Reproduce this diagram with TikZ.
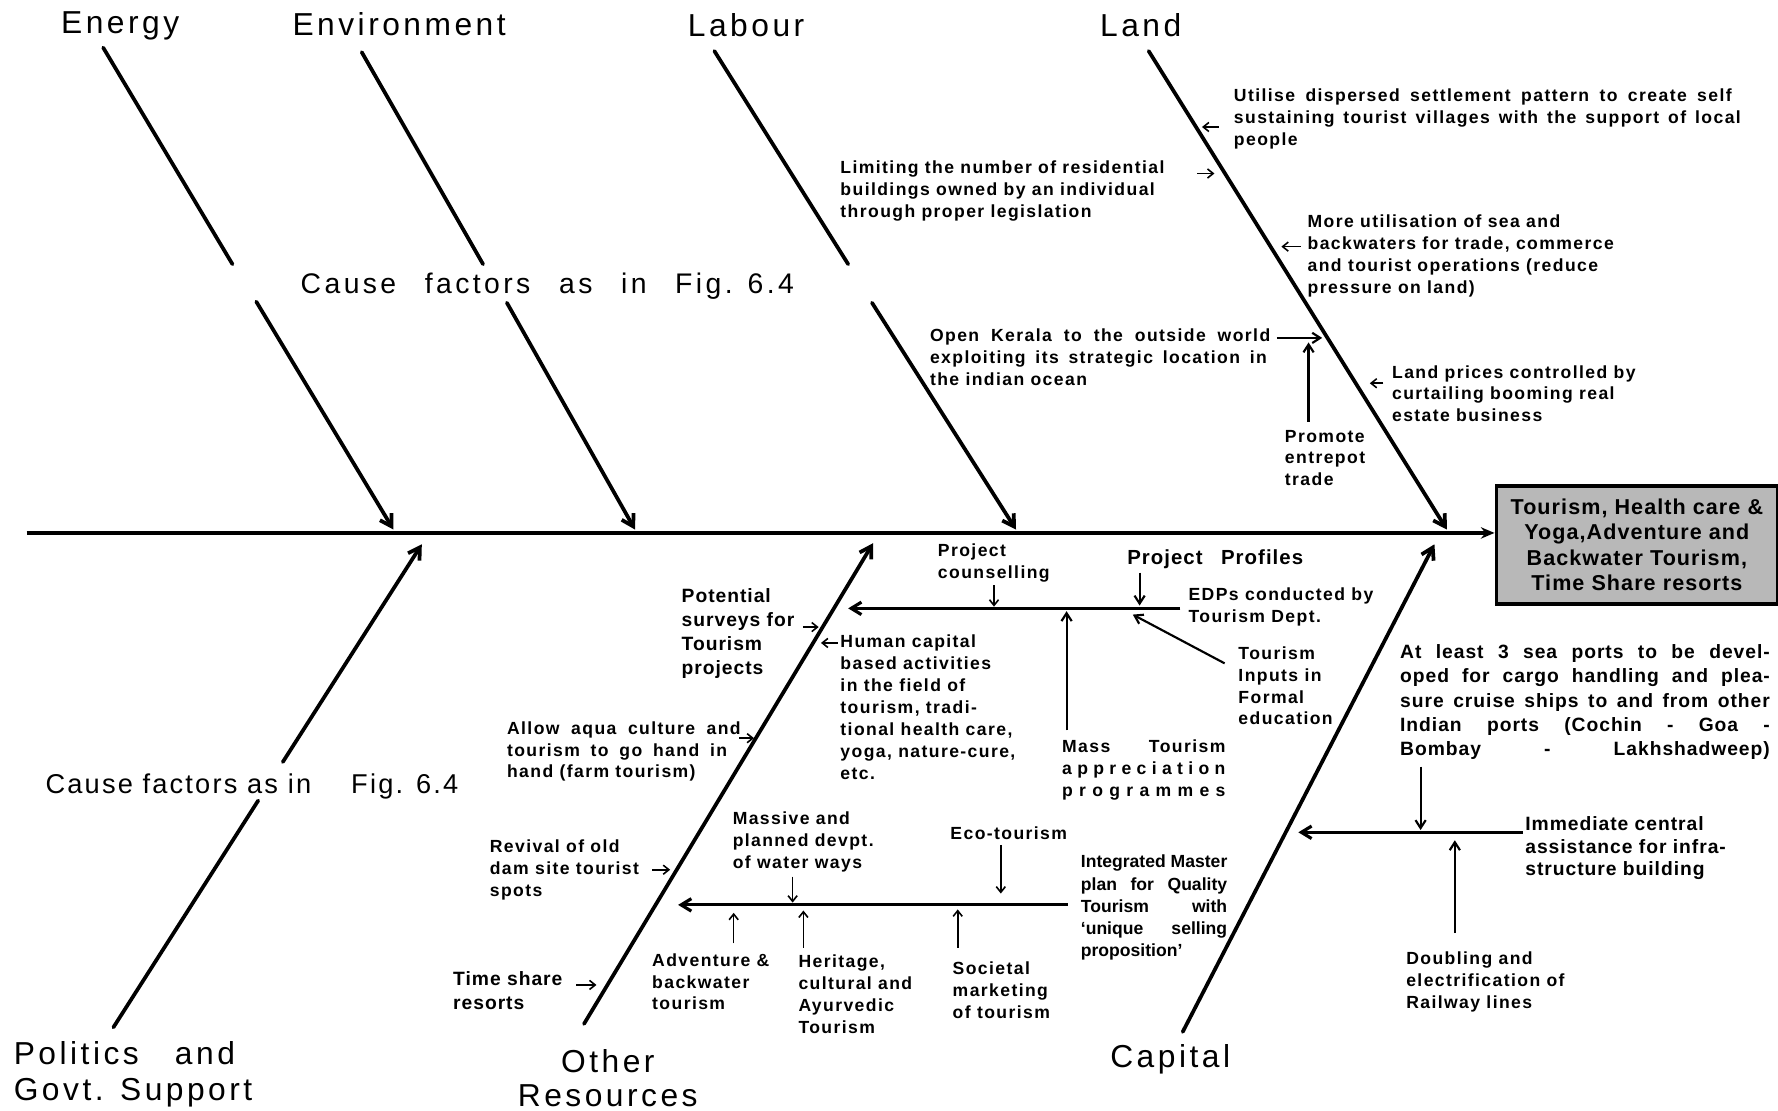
\documentclass[tikz,border=0pt]{standalone}
\usepackage{fontspec}
\setmainfont{Liberation Sans}
\newfontfamily\headfont{Liberation Sans}[LetterSpace=11]
\newfontfamily\causefont{Liberation Sans}[LetterSpace=12]
\newfontfamily\causefontb{Liberation Sans}[LetterSpace=8]
\newfontfamily\notefont{Liberation Sans}[LetterSpace=8]
\newfontfamily\midfont{Liberation Sans}[LetterSpace=5]
\newfontfamily\tightfont{Liberation Sans}
\usetikzlibrary{arrows.meta}
% a line of text spread to a fixed width
\newcommand\jl[2]{\makebox[#1][s]{#2}}

\tikzset{
  heading/.style={inner sep=0pt, font=\headfont\fontsize{28}{31}\selectfont},
  cause/.style={inner sep=0pt, anchor=base west},
  note/.style={inner sep=0pt, anchor=north west, align=left,
    font=\notefont\bfseries\fontsize{15.5}{19.3}\selectfont},
  midnote/.style={note, font=\midfont\bfseries\fontsize{17}{21}\selectfont},
  tightnote/.style={note, font=\tightfont\bfseries\fontsize{15.5}{19.5}\selectfont},
  goalbox/.style={draw, line width=3pt, fill=black!28, inner sep=0pt,
    minimum width=248pt, minimum height=104pt, align=center,
    font=\midfont\bfseries\fontsize{19}{22.4}\selectfont},
  spine/.style={line width=3pt, -{Stealth[length=12pt,width=10pt]}},
  bone/.style={line width=3.3pt, line cap=round},
  bonearrow/.style={bone, -{Straight Barb[length=10pt,width=12pt]}},
  subbranch/.style={line width=2.8pt, -{Straight Barb[length=9pt,width=11pt]}},
  feeder/.style={line width=1.9pt, -{Straight Barb[length=7pt,width=9pt]}},
  smallarrow/.style={line width=1.4pt, -{Straight Barb[length=5pt,width=8pt]}},
}

\begin{document}
\begin{tikzpicture}[x=1pt,y=-1pt]
\fill[white] (0,0) rectangle (1568,979);
\useasboundingbox (0,0) rectangle (1568,979);

% ---------- category headings ----------
\node[heading, anchor=base] (energy) at (106,29.5) {Energy};
\node[heading, anchor=base] (environment) at (352,31) {Environment};
\node[heading, anchor=base] (labour) at (658,32.5) {Labour};
\node[heading, anchor=base] (land) at (1006,32.5) {Land};
\node[heading, anchor=north west, align=left, font=\headfont\fontsize{28}{32}\selectfont]
  (politics) at (12,918) {\jl{195pt}{Politics and}\\Govt. Support};
\node[heading, anchor=north, align=center, font=\headfont\fontsize{28}{30}\selectfont]
  (otherres) at (536,925) {Other\\Resources};
\node[heading, anchor=base] (capital) at (1032,941) {Capital};

\node[cause, font=\causefont\fontsize{25}{28}\selectfont] (causeup) at (265,258.6)
  {\makebox[435pt][l]{Cause\hfill factors\hfill as\hfill in\hfill Fig. 6.4}};
\node[cause, font=\causefontb\fontsize{24}{28}\selectfont] (causelow) at (40,700)
  {\makebox[364pt][l]{Cause factors as in\hfill Fig. 6.4}};

% ---------- effect box and spine ----------
\coordinate (tail) at (23.5,470);
\node[goalbox, anchor=north west] (goal) at (1318,427)
  {Tourism, Health care \&\\Yoga,Adventure and\\Backwater Tourism,\\Time Share resorts};
\draw[spine] (tail) -- (tail -| goal.west);

% ---------- main bones (broken where the cause-factor rows run) ----------
\coordinate (enA) at (91,42);   \coordinate (enB) at (205,233);
\coordinate (enC) at (226,266); \coordinate (enD) at (347,467);
\draw[bone] (enA) -- (enB); \draw[bonearrow] (enC) -- (enD);

\coordinate (evA) at (319,46);  \coordinate (evB) at (426,233);
\coordinate (evC) at (447,267); \coordinate (evD) at (560,467);
\draw[bone] (evA) -- (evB); \draw[bonearrow] (evC) -- (evD);

\coordinate (lbA) at (630,45);  \coordinate (lbB) at (748,233);
\coordinate (lbC) at (769,267); \coordinate (lbD) at (896,467);
\draw[bone] (lbA) -- (lbB); \draw[bonearrow] (lbC) -- (lbD);

\coordinate (ldA) at (1013,45); \coordinate (ldD) at (1276,467);
\draw[bonearrow] (ldA) -- (ldD);

\coordinate (plA) at (100,906);   \coordinate (plB) at (227.7,706);
\coordinate (plC) at (249.4,672); \coordinate (plD) at (372,480);
\draw[bone] (plA) -- (plB); \draw[bonearrow] (plC) -- (plD);

\coordinate (orA) at (515,903); \coordinate (orD) at (770,479);
\draw[bonearrow] (orA) -- (orD);

\coordinate (cpA) at (1043,910); \coordinate (cpD) at (1265,480);
\draw[bonearrow] (cpA) -- (cpD);

% ---------- Land causes ----------
\node[note] (utilise) at (1088,78)
  {\jl{439pt}{Utilise dispersed settlement pattern to create self}\\
   \jl{447pt}{sustaining tourist villages with the support of local}\\people};
\coordinate (u1) at (1075,112); \coordinate (u2) at (1060,112);
\draw[smallarrow] (u1) -- (u2);

\node[note] (limiting) at (741,142)
  {Limiting the number of residential\\buildings owned by an individual\\through proper legislation};
\coordinate (li1) at (1056,153); \coordinate (li2) at (1071,153);
\draw[smallarrow] (li1) -- (li2);

\node[note] (seaway) at (1153,189.5)
  {More utilisation of sea and\\backwaters for trade, commerce\\and tourist operations (reduce\\pressure on land)};
\coordinate (se1) at (1147,217.5); \coordinate (se2) at (1130,217.5);
\draw[smallarrow] (se1) -- (se2);

\node[note] (kerala) at (820,290)
  {\jl{300pt}{Open Kerala to the outside world}\\
   \jl{297pt}{exploiting its strategic location in}\\the indian ocean};
\coordinate (ke1) at (1126,298); \coordinate (ke2) at (1166,298);
\draw[feeder] (ke1) -- (ke2);

\node[note] (entrepot) at (1133,379) {Promote\\entrepot\\trade};
\coordinate (en1) at (1154,372); \coordinate (en2) at (1154,302);
\draw[feeder] (en1) -- (en2);

\node[note] (landprice) at (1227.5,322)
  {Land prices controlled by\\curtailing booming real\\estate business};
\coordinate (lp1) at (1220,338); \coordinate (lp2) at (1208,338);
\draw[smallarrow] (lp1) -- (lp2);

% ---------- Other Resources: human capital branch ----------
\coordinate (b1s) at (1041,536.5); \coordinate (b1e) at (748,536.5);
\draw[subbranch] (b1s) -- (b1e);

\node[note] (counsel) at (827,479) {Project\\counselling};
\coordinate (pc1) at (876.6,516); \coordinate (pc2) at (876.6,535);
\draw[smallarrow] (pc1) -- (pc2);

\node[midnote, font=\midfont\bfseries\fontsize{18}{22}\selectfont] (profiles) at (994,485)
  {\jl{155pt}{Project Profiles}};
\coordinate (pp1) at (1005,505); \coordinate (pp2) at (1005,534);
\draw[feeder] (pp1) -- (pp2);

\node[note] (edp) at (1048,518) {EDPs conducted by\\Tourism Dept.};

\node[note] (inputs) at (1092,570) {Tourism\\Inputs in\\Formal\\education};
\coordinate (ti1) at (1080,585); \coordinate (ti2) at (999,542);
\draw[feeder] (ti1) -- (ti2);

\node[note] (mass) at (936.5,652.6)
  {\jl{144pt}{Mass Tourism}\\
   \jl{144pt}{a\hfill p\hfill p\hfill r\hfill e\hfill c\hfill i\hfill a\hfill t\hfill i\hfill o\hfill n}\\
   \jl{144pt}{p\hfill r\hfill o\hfill g\hfill r\hfill a\hfill m\hfill m\hfill e\hfill s}};
\coordinate (ma1) at (940.6,644); \coordinate (ma2) at (940.6,539);
\draw[feeder] (ma1) -- (ma2);

\node[note] (human) at (741,560)
  {Human capital\\based activities\\in the field of\\tourism, tradi-\\tional health care,\\yoga, nature-cure,\\etc.};
\coordinate (hu1) at (739,567); \coordinate (hu2) at (724,567);
\draw[smallarrow] (hu1) -- (hu2);

\node[midnote] (potential) at (601,519) {Potential\\surveys for\\Tourism\\projects};
\coordinate (po1) at (708,553); \coordinate (po2) at (722,553);
\draw[smallarrow] (po1) -- (po2);

\node[note] (aqua) at (447,636)
  {\jl{206pt}{Allow aqua culture and}\\\jl{194pt}{tourism to go hand in}\\hand (farm tourism)};
\coordinate (aq1) at (652,651); \coordinate (aq2) at (665,651);
\draw[smallarrow] (aq1) -- (aq2);

% ---------- Other Resources: master plan branch ----------
\coordinate (b2s) at (941.5,798); \coordinate (b2e) at (598,798);
\draw[subbranch] (b2s) -- (b2e);

\node[note] (waterways) at (646,715.7) {Massive and\\planned devpt.\\of water ways};
\coordinate (ww1) at (699,773); \coordinate (ww2) at (699,796);
\draw[smallarrow] (ww1) -- (ww2);

\node[note] (eco) at (838,729) {Eco-tourism};
\coordinate (ec1) at (882.6,745); \coordinate (ec2) at (882.6,788);
\draw[smallarrow] (ec1) -- (ec2);

\node[tightnote] (master) at (953,754)
  {Integrated Master\\\jl{129pt}{plan for Quality}\\\jl{129pt}{Tourism with}\\
   \jl{129pt}{‘unique selling}\\proposition’};

\node[note] (revival) at (431.8,740.7) {Revival of old\\dam site tourist\\spots};
\coordinate (rv1) at (575,767); \coordinate (rv2) at (591,767);
\draw[smallarrow] (rv1) -- (rv2);

\node[note] (adventure) at (575,840.6) {Adventure \&\\backwater\\tourism};
\coordinate (ad1) at (647,832); \coordinate (ad2) at (647,805);
\draw[smallarrow] (ad1) -- (ad2);

\node[note] (heritage) at (704,842) {Heritage,\\cultural and\\Ayurvedic\\Tourism};
\coordinate (he1) at (708.5,836); \coordinate (he2) at (708.5,803);
\draw[smallarrow] (he1) -- (he2);

\node[note] (societal) at (840,848) {Societal\\marketing\\of tourism};
\coordinate (so1) at (844.6,836); \coordinate (so2) at (844.6,802);
\draw[smallarrow] (so1) -- (so2);

\node[midnote] (timeshare) at (399.5,857) {Time share\\resorts};
\coordinate (ts1) at (508,868.6); \coordinate (ts2) at (526,868.6);
\draw[smallarrow] (ts1) -- (ts2);

% ---------- Capital branch ----------
\coordinate (b3s) at (1343,734); \coordinate (b3e) at (1145,734);
\draw[subbranch] (b3s) -- (b3e);

\node[midnote, font=\midfont\bfseries\fontsize{17}{21.5}\selectfont] (ports) at (1234.6,568)
  {\jl{326pt}{At least 3 sea ports to be devel-}\\
   \jl{326pt}{oped for cargo handling and plea-}\\
   \jl{326pt}{sure cruise ships to and from other}\\
   \jl{326pt}{Indian ports (Cochin - Goa -}\\
   \jl{326pt}{Bombay - Lakhshadweep)}};
\coordinate (sp1) at (1252.8,676); \coordinate (sp2) at (1252.8,732);
\draw[feeder] (sp1) -- (sp2);

\node[midnote, font=\midfont\bfseries\fontsize{17}{20}\selectfont] (central) at (1345,720)
  {Immediate central\\assistance for infra-\\structure building};

\node[note] (railway) at (1240,839) {Doubling and\\electrification of\\Railway lines};
\coordinate (rl1) at (1283,823); \coordinate (rl2) at (1283,741);
\draw[feeder] (rl1) -- (rl2);

\end{tikzpicture}
\end{document}
